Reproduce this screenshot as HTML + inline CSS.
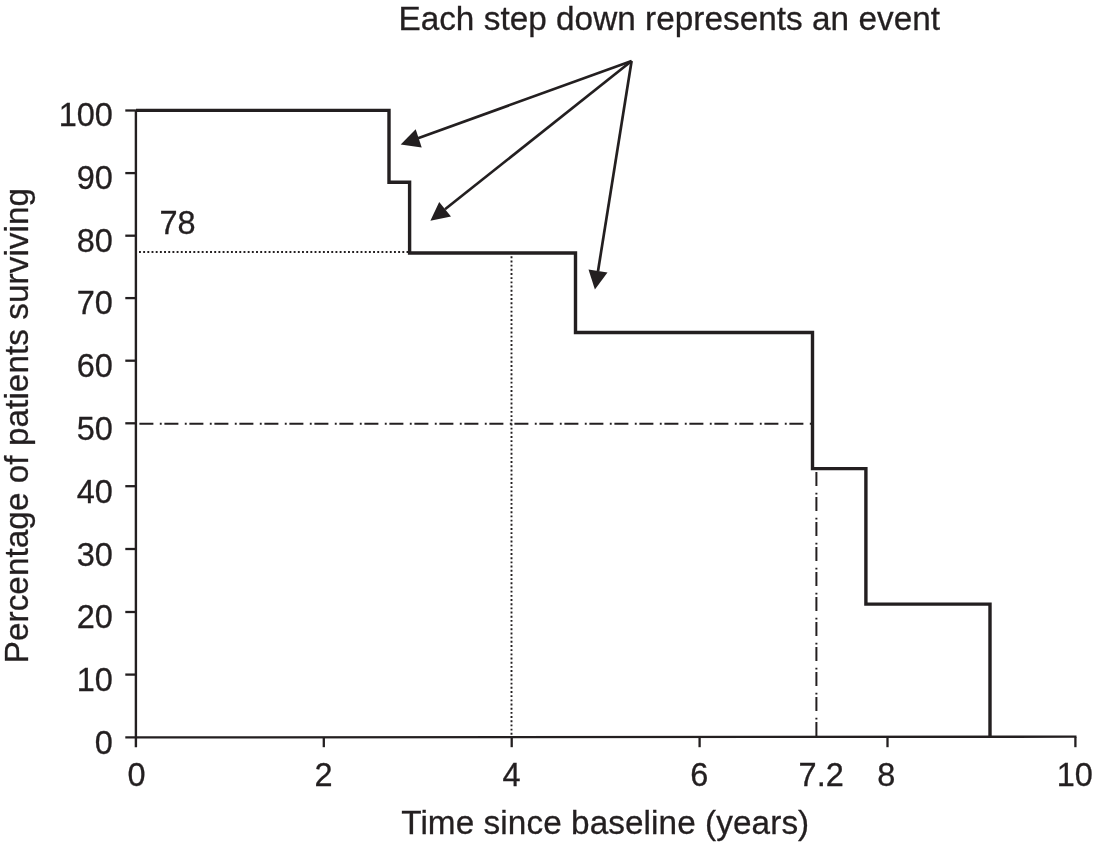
<!DOCTYPE html>
<html><head><meta charset="utf-8"><title>Kaplan-Meier survival curve</title>
<style>
html,body{margin:0;padding:0;background:#fff;}
svg{display:block;}
text{font-family:"Liberation Sans",Arial,Helvetica,sans-serif;fill:#231f20;stroke:#231f20;stroke-width:0.3;}
</style></head>
<body>
<svg width="1096" height="842" viewBox="0 0 1096 842">
<rect width="1096" height="842" fill="#fff"/>
<g stroke="#231f20" fill="none">
<!-- axes -->
<path d="M135.9 110.4V747.2" stroke-width="2.4"/>
<path d="M125.3 737.4L1076.5 736.7" stroke-width="2.3"/>
<!-- ticks -->
<g stroke-width="2.3">
<path d="M125.3 110.5H135.9"/><path d="M125.3 173.1H135.9"/><path d="M125.3 235.7H135.9"/><path d="M125.3 298.1H135.9"/><path d="M125.3 360.7H135.9"/><path d="M125.3 423.3H135.9"/><path d="M125.3 486.2H135.9"/><path d="M125.3 549.0H135.9"/><path d="M125.3 612.0H135.9"/><path d="M125.3 674.6H135.9"/>
<path d="M323.8 737V747.2"/><path d="M511.7 737V747.2"/><path d="M699.6 737V747.2"/><path d="M887.5 737V747.2"/><path d="M1075.4 737V747.2"/>
</g>
<!-- survival curve -->
<path d="M135.9 110.4H389V182.2H409.6V253H575.5V332.5H812.5V468.6H865.9V604.1H990V737" stroke-width="3.4" stroke-linejoin="miter"/>
<!-- dotted reference lines -->
<path d="M139 252H408" stroke-width="1.9" stroke-dasharray="1.9 2.28"/>
<path d="M511.5 256.3V736" stroke-width="1.9" stroke-dasharray="1.9 2.28"/>
<!-- dash-dot median lines -->
<path d="M139.4 423.7H812" stroke-width="2" stroke-dasharray="14 6.4 1.9 2.7"/>
<path d="M816.4 472.1V736.5" stroke-width="2" stroke-dasharray="14 6.6 1.8 2.6"/>
<!-- arrow shafts -->
<g stroke-width="2.7" stroke-linejoin="round">
<path d="M631.6 61L418 138.2"/><path d="M631.6 61L445 209.3"/><path d="M631.6 61L598 271.2"/>
</g>
</g>
<g fill="#231f20">
<path d="M400.7 144.5L415.7 129.3L421.7 147.5Z"/>
<path d="M430.4 220.8L439.2 202L451 216.5Z"/>
<path d="M594.9 289.6L588.5 269.6L607.5 272.5Z"/>
</g>
<g font-size="33.3">
<text x="398.4" y="30.2" textLength="541.6" lengthAdjust="spacing">Each step down represents an event</text>
<g text-anchor="end" font-size="32.5">
<text x="112.9" y="126.0">100</text><text x="112.9" y="188.8">90</text><text x="112.9" y="251.6">80</text><text x="112.9" y="314.4">70</text><text x="112.9" y="377.2">60</text><text x="112.9" y="440.0">50</text><text x="112.9" y="502.8">40</text><text x="112.9" y="565.6">30</text><text x="112.9" y="628.4">20</text><text x="112.9" y="691.2">10</text><text x="112.9" y="754.0">0</text>
</g>
<g text-anchor="middle" font-size="32.5">
<text x="136.6" y="785.6">0</text><text x="323.6" y="785.6">2</text><text x="511.5" y="785.6">4</text><text x="699.4" y="785.6">6</text><text x="821.2" y="785.6">7.2</text><text x="886.3" y="785.6">8</text><text x="1074.8" y="785.6">10</text>
</g>
<text x="159.5" y="233.8" font-size="32.5">78</text>
<text x="401.2" y="833.9" textLength="408" lengthAdjust="spacing">Time since baseline (years)</text>
<text transform="translate(28 663.3) rotate(-90)" textLength="475.4" lengthAdjust="spacing">Percentage of patients surviving</text>
</g>
</svg>
</body></html>
